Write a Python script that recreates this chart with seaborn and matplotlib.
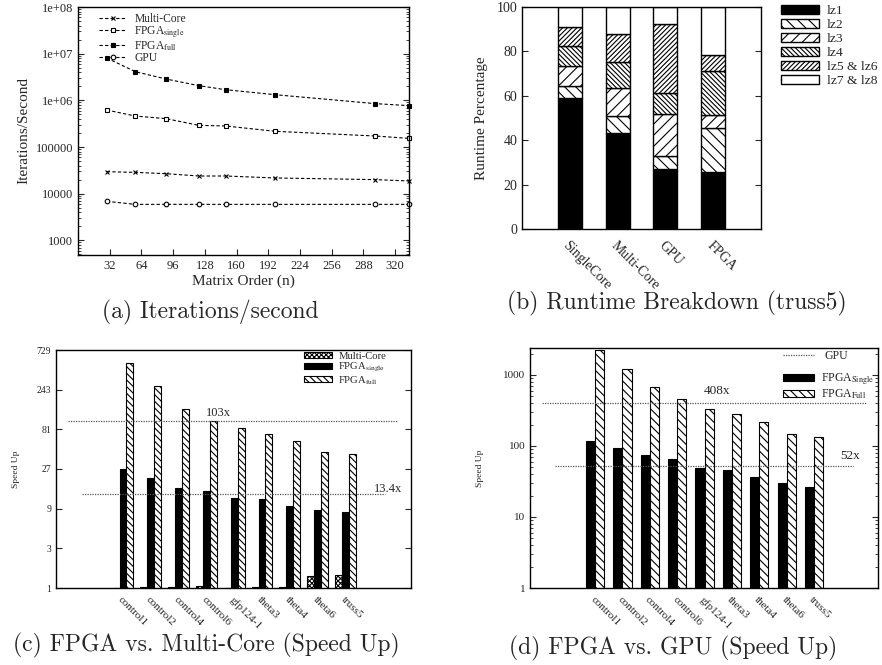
import numpy as np
import pandas as pd
import seaborn as sns
import matplotlib.pyplot as plt
from matplotlib.patches import Patch
from matplotlib.lines import Line2D
from matplotlib.ticker import FixedLocator, FixedFormatter, LogLocator, NullFormatter

# (a) iterations / second vs matrix order
order_n = [29, 58, 89, 122, 149, 199, 300, 334]
ips_multicore = [29600, 28600, 26800, 23900, 23900, 21700, 20000, 18700]
ips_fpga_single = [620000, 460000, 405000, 291000, 282000, 217000, 172000, 153000]
ips_fpga_full = [8070000, 4100000, 2860000, 2060000, 1690000, 1320000, 850000, 770000]
ips_gpu = [6850, 5900, 5900, 5900, 5900, 5900, 5900, 5900]

# (b) runtime breakdown (truss5), percent
impls = ['SingleCore', 'Multi-Core', 'GPU', 'FPGA']
stages = ['lz1', 'lz2', 'lz3', 'lz4', 'lz5 & lz6', 'lz7 & lz8']
lz1 = [58.8, 43.2, 27.0, 25.6]
lz2 = [5.5, 7.8, 6.1, 19.7]
lz3 = [9.0, 12.4, 18.6, 6.0]
lz4 = [9.2, 11.9, 9.6, 19.8]
lz56 = [8.5, 12.6, 31.1, 7.5]
lz78 = [9.0, 12.1, 7.6, 21.4]

# (c) / (d) speed ups
matrices = ['control1', 'control2', 'control4', 'control6', 'gfp124-1',
            'theta3', 'theta4', 'theta6', 'truss5']
mc_speedup = [1.0, 1.03, 1.02, 1.06, 1.0, 1.03, 1.03, 1.38, 1.45]
fpga_single_mc = [27.2, 20.9, 16.1, 14.8, 12.0, 11.9, 9.8, 8.6, 8.2]
fpga_full_mc = [508, 269, 143, 103, 84, 71, 59, 43, 41]
avg_mc = [103, 13.4]
fpga_single_gpu = [119, 93, 75.5, 65.6, 48.5, 46.4, 36.2, 30.1, 26.7]
fpga_full_gpu = [2224, 1215, 678, 459, 336, 279, 218, 149, 134]
avg_gpu = [408, 52]

sns.set_style('ticks')
plt.rcParams['font.family'] = ['Liberation Serif', 'DejaVu Serif']
plt.rcParams['mathtext.fontset'] = 'stix'
plt.rcParams['hatch.linewidth'] = 0.8
plt.rcParams['axes.edgecolor'] = 'black'
plt.rcParams['axes.linewidth'] = 1.0

fig = plt.figure(figsize=(8.82, 6.65), dpi=100)
W, H = 882.0, 665.0


def fbox(l, t, r, b):
    return [l / W, 1 - b / H, (r - l) / W, (b - t) / H]


ax_a = fig.add_axes(fbox(78, 7, 409, 255))
ax_b = fig.add_axes(fbox(522, 7, 761, 229))
ax_c = fig.add_axes(fbox(56, 350, 411, 588))
ax_d = fig.add_axes(fbox(530, 348, 878, 588))

# ---------------- (a) ----------------
series_a = [('Multi-Core', ips_multicore, dict(marker='x', markersize=3, mfc='black')),
            ('FPGA$_{\\rm single}$', ips_fpga_single, dict(marker='s', markersize=3.3, mfc='white')),
            ('FPGA$_{\\rm full}$', ips_fpga_full, dict(marker='s', markersize=3.3, mfc='black')),
            ('GPU', ips_gpu, dict(marker='o', markersize=3.3, mfc='white'))]
handles_a = []
for name, vals, mk in series_a:
    sns.lineplot(x=order_n, y=vals, ax=ax_a, color='black', lw=0.8,
                 linestyle=(0, (3, 2)), clip_on=False,
                 mec='black', mew=0.8, **mk)
    handles_a.append(Line2D([], [], color='black', lw=0.8, linestyle=(0, (3, 2)),
                            mec='black', mew=0.8, **mk))
ax_a.set_yscale('log')
ax_a.set_ylim(485, 1e8)
ax_a.set_xlim(0, 334)
ax_a.set_xticks(range(32, 321, 32))
ax_a.yaxis.set_major_locator(FixedLocator([1e3, 1e4, 1e5, 1e6, 1e7, 1e8]))
ax_a.yaxis.set_major_formatter(FixedFormatter(['1000', '10000', '100000', '1e+06', '1e+07', '1e+08']))
ax_a.yaxis.set_minor_locator(LogLocator(base=10, subs=np.arange(2, 10)))
ax_a.yaxis.set_minor_formatter(NullFormatter())
ax_a.tick_params(which='both', direction='in', right=True, labelsize=9)
ax_a.tick_params(which='major', length=4)
ax_a.tick_params(which='minor', length=2)
ax_a.set_xlabel('Matrix Order (n)', fontsize=11, labelpad=2)
ax_a.set_ylabel('Iterations/Second', fontsize=11, labelpad=4)
ax_a.legend(handles_a, [s[0] for s in series_a], loc='upper left', frameon=False,
            fontsize=8.3, handlelength=2.4, handletextpad=0.7, labelspacing=-0.05,
            borderpad=0.0, bbox_to_anchor=(93 / W, 1 - 7 / H),
            bbox_transform=fig.transFigure)

# ---------------- (b) ----------------
stage_vals = [lz1, lz2, lz3, lz4, lz56, lz78]
stage_style = [('black', ''), ('white', '\\\\\\'), ('white', '///'),
               ('white', '\\\\\\\\\\\\\\'), ('white', '///////'), ('white', '')]
xb = np.arange(len(impls))
bottom = np.zeros(len(impls))
handles_b = []
for vals, (fc, hatch), lab in zip(stage_vals, stage_style, stages):
    ax_b.bar(xb, vals, bottom=bottom, width=0.5, color=fc, edgecolor='black',
             linewidth=1.0, hatch=hatch)
    bottom = bottom + np.array(vals)
    handles_b.append(Patch(facecolor=fc, edgecolor='black', hatch=hatch, lw=1.0))
ax_b.set_xlim(-1, 4)
ax_b.set_ylim(0, 100)
ax_b.set_yticks([0, 20, 40, 60, 80, 100])
ax_b.set_xticks(xb)
ax_b.set_xticklabels(impls, rotation=-45, ha='left', va='top', rotation_mode='anchor', fontsize=10)
ax_b.tick_params(axis='y', direction='in', right=True, labelsize=10, length=4)
ax_b.tick_params(axis='x', length=0, pad=7)
ax_b.set_ylabel('Runtime Percentage', fontsize=11, labelpad=6)
fig.legend(handles_b, stages, loc='upper left', frameon=False, fontsize=9.7,
           handlelength=2.8, handleheight=0.65, handletextpad=0.6, labelspacing=0.13,
           borderpad=0.0, borderaxespad=0.0, bbox_to_anchor=(781 / W, 1 - 5 / H))

# ---------------- (c) ----------------
hue_c = ['Multi-Core', 'FPGA$_{\\rm single}$', 'FPGA$_{\\rm full}$']
df_c = pd.DataFrame({'matrix': matrices * 3,
                     'series': np.repeat(hue_c, len(matrices)),
                     'value': mc_speedup + fpga_single_mc + fpga_full_mc})
sns.barplot(data=df_c, x='matrix', y='value', hue='series', hue_order=hue_c,
            order=matrices, palette=['white', 'black', 'white'], edgecolor='black',
            linewidth=0.8, width=0.75, errorbar=None, legend=False, saturation=1, ax=ax_c)
hatch_c = ['xxxxxxx', '', '\\\\\\\\\\']
for cont, h in zip(ax_c.containers, hatch_c):
    for p in cont:
        p.set_hatch(h)
ax_c.set_yscale('log', base=3)
ax_c.set_ylim(1, 729)
ax_c.set_xlim(-2.41, 10.36)
ax_c.yaxis.set_major_locator(FixedLocator([1, 3, 9, 27, 81, 243, 729]))
ax_c.yaxis.set_major_formatter(FixedFormatter(['1', '3', '9', '27', '81', '243', '729']))
ax_c.yaxis.set_minor_locator(FixedLocator([]))
ax_c.tick_params(axis='y', direction='in', right=True, labelsize=7, length=4)
ax_c.set_xticks(range(len(matrices)))
ax_c.set_xticklabels(matrices, rotation=-45, ha='left', va='top', rotation_mode='anchor', fontsize=8)
ax_c.tick_params(axis='x', length=0, pad=5)
ax_c.set_xlabel('')
ax_c.set_ylabel('Speed Up', fontsize=6.8, labelpad=12)
ax_c.hlines(avg_mc[0], -1.98, 9.89, colors='#555555', linestyles=(0, (1, 1)), lw=0.9)
ax_c.hlines(avg_mc[1], -1.47, 9.42, colors='#555555', linestyles=(0, (1, 1)), lw=0.9)
ax_c.text(3.42, 128, '103x', fontsize=9, ha='center', va='center')
ax_c.text(9.53, 15.6, '13.4x', fontsize=9, ha='center', va='center')
handles_c = [Patch(facecolor=fc, edgecolor='black', hatch=h, lw=0.8)
             for fc, h in zip(['white', 'black', 'white'], hatch_c)]
ax_c.legend(handles_c, hue_c, loc='upper left', frameon=False, fontsize=7.7,
            handlelength=2.6, handleheight=0.45, handletextpad=0.6, labelspacing=0.0,
            borderpad=0.0, borderaxespad=0.0, bbox_to_anchor=(304 / W, 1 - 352 / H),
            bbox_transform=fig.transFigure)

# ---------------- (d) ----------------
hue_d = ['FPGA$_{\\rm Single}$', 'FPGA$_{\\rm Full}$']
df_d = pd.DataFrame({'matrix': matrices * 2,
                     'series': np.repeat(hue_d, len(matrices)),
                     'value': fpga_single_gpu + fpga_full_gpu})
sns.barplot(data=df_d, x='matrix', y='value', hue='series', hue_order=hue_d,
            order=matrices, palette=['black', 'white'], edgecolor='black',
            linewidth=0.8, width=2 / 3, errorbar=None, legend=False, saturation=1, ax=ax_d)
hatch_d = ['', '\\\\\\\\']
for cont, h in zip(ax_d.containers, hatch_d):
    for p in cont:
        p.set_hatch(h)
ax_d.set_yscale('log')
ax_d.set_ylim(1, 2400)
ax_d.set_xlim(-2.38, 10.34)
ax_d.yaxis.set_major_locator(FixedLocator([1, 10, 100, 1000]))
ax_d.yaxis.set_major_formatter(FixedFormatter(['1', '10', '100', '1000']))
ax_d.yaxis.set_minor_locator(LogLocator(base=10, subs=np.arange(2, 10)))
ax_d.yaxis.set_minor_formatter(NullFormatter())
ax_d.tick_params(axis='y', which='both', direction='in', right=True, labelsize=8)
ax_d.tick_params(axis='y', which='major', length=4)
ax_d.tick_params(axis='y', which='minor', length=2)
ax_d.set_xticks(range(len(matrices)))
ax_d.set_xticklabels(matrices, rotation=-45, ha='left', va='top', rotation_mode='anchor', fontsize=8)
ax_d.tick_params(axis='x', length=0, pad=5)
ax_d.set_xlabel('')
ax_d.set_ylabel('Speed Up', fontsize=6.8, labelpad=14)
ax_d.hlines(avg_gpu[0], -1.95, 9.92, colors='#555555', linestyles=(0, (1, 1)), lw=0.9)
ax_d.hlines(avg_gpu[1], -1.46, 9.44, colors='#555555', linestyles=(0, (1, 1)), lw=0.9)
ax_d.text(4.46, 601, '408x', fontsize=9.5, ha='center', va='center')
ax_d.text(9.33, 73, '52x', fontsize=9.5, ha='center', va='center')
leg_gpu = ax_d.legend([Line2D([], [], color='#555555', lw=0.9, linestyle=(0, (1, 1)))], ['GPU'],
                      loc='upper left', frameon=False, fontsize=8.5, handlelength=2.6,
                      handletextpad=0.9, borderpad=0.0, borderaxespad=0.0,
                      bbox_to_anchor=(783 / W, 1 - 350 / H), bbox_transform=fig.transFigure)
ax_d.add_artist(leg_gpu)
handles_d = [Patch(facecolor=fc, edgecolor='black', hatch=h, lw=0.8)
             for fc, h in zip(['black', 'white'], hatch_d)]
ax_d.legend(handles_d, hue_d, loc='upper left', frameon=False, fontsize=8.5,
            handlelength=2.6, handleheight=0.5, handletextpad=0.6, labelspacing=0.0,
            borderpad=0.0, borderaxespad=0.0, bbox_to_anchor=(783 / W, 1 - 372 / H),
            bbox_transform=fig.transFigure)

# captions
cap = dict(family='cmr10', fontsize=17, ha='center', va='center')
fig.text(210 / W, 1 - 312 / H, '(a) Iterations/second', **cap)
fig.text(677 / W, 1 - 303 / H, '(b) Runtime Breakdown (truss5)', **cap)
fig.text(206 / W, 1 - 645 / H, '(c) FPGA vs. Multi-Core (Speed Up)', **cap)
fig.text(673 / W, 1 - 648 / H, '(d) FPGA vs. GPU (Speed Up)', **cap)

fig.savefig('out.png', dpi=100)
